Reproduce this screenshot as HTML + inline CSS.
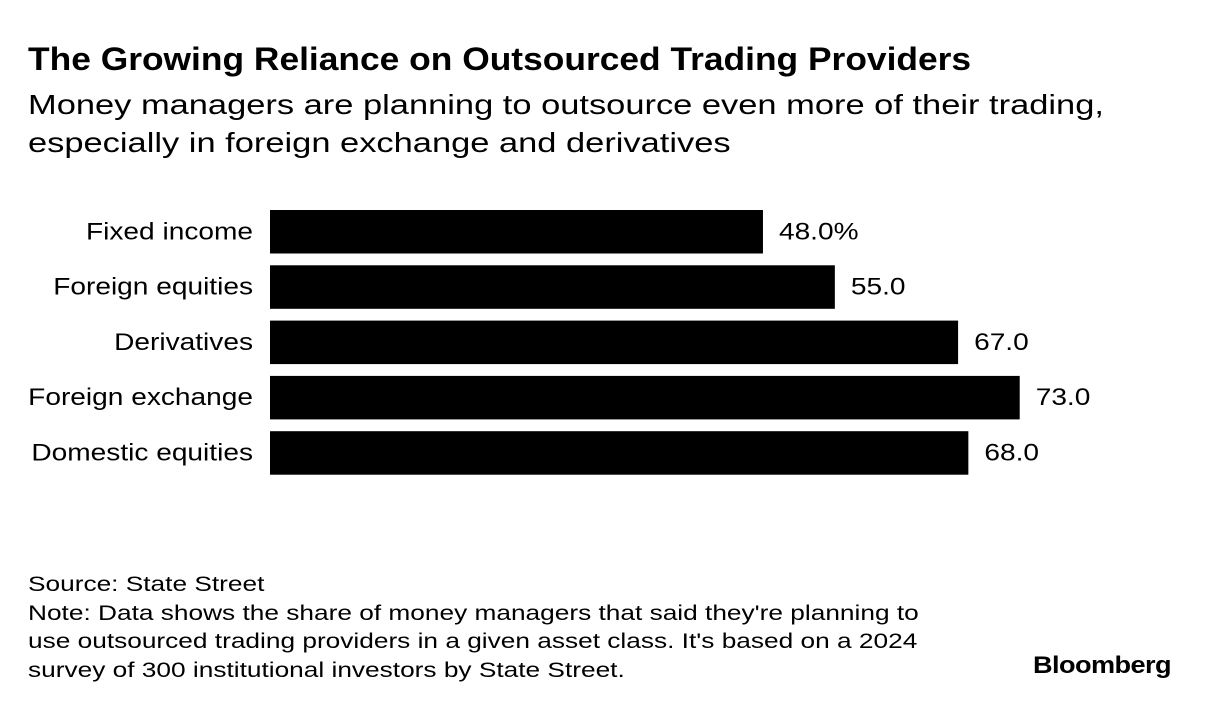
<!DOCTYPE html>
<html><head><meta charset="utf-8"><style>
body{margin:0;width:1209px;height:712px;background:#fff;font-family:"Liberation Sans",sans-serif;color:#000;position:relative;overflow:hidden}
.t{position:absolute;white-space:nowrap;transform-origin:0 0}
</style></head><body>
<div class="t" style="left:28px;top:41px;font-size:32px;font-weight:bold;transform:scaleX(1.105)">The Growing Reliance on Outsourced Trading Providers</div>
<div class="t" style="left:28px;top:86px;font-size:28px;line-height:38px;transform:scaleX(1.23)">Money managers are planning to outsource even more of their trading,<br>especially in foreign exchange and derivatives</div>
<svg id="chart" width="1209" height="520" style="position:absolute;left:0;top:0"></svg>
<div class="t" style="left:28px;top:571px;font-size:21px;line-height:28.5px;transform:scaleX(1.25)">Source: State Street<br>Note: Data shows the share of money managers that said they're planning to<br>use outsourced trading providers in a given asset class. It's based on a 2024<br>survey of 300 institutional investors by State Street.</div>
<div class="t" style="left:1033px;top:652px;font-size:24px;font-weight:bold;letter-spacing:-0.5px;transform:scaleX(1.13)">Bloomberg</div>
<script>
const categories=["Fixed income","Foreign equities","Derivatives","Foreign exchange","Domestic equities"];
const values=[48,55,67,73,68];
const valueLabels=["48.0%","55.0","67.0","73.0","68.0"];
const svg=document.getElementById('chart');
const NS='http://www.w3.org/2000/svg';
const x0=270,pxPerUnit=10.27,y0=210,pitch=55.3,bh=43.5,stretch=1.17;
const xs=v=>x0+v*pxPerUnit;
const ys=i=>y0+i*pitch;
function widen(t){const w=t.getComputedTextLength();t.setAttribute('textLength',w*stretch);t.setAttribute('lengthAdjust','spacingAndGlyphs');}
categories.forEach((c,i)=>{
  const r=document.createElementNS(NS,'rect');
  
  
  r.setAttribute('x',x0);r.setAttribute('y',ys(i));
  r.setAttribute('width',xs(values[i])-x0);r.setAttribute('height',bh);
  svg.appendChild(r);
  const l=document.createElementNS(NS,'text');
  
  
  l.setAttribute('x',253);l.setAttribute('y',ys(i)+bh/2+7.5);
  l.setAttribute('text-anchor','end');l.setAttribute('font-size','24');
  l.textContent=c;svg.appendChild(l);widen(l);
  const v=document.createElementNS(NS,'text');
  
  
  v.setAttribute('x',xs(values[i])+16);v.setAttribute('y',ys(i)+bh/2+7.5);
  v.setAttribute('font-size','24');
  v.textContent=valueLabels[i];svg.appendChild(v);widen(v);
});
</script>
</body></html>
